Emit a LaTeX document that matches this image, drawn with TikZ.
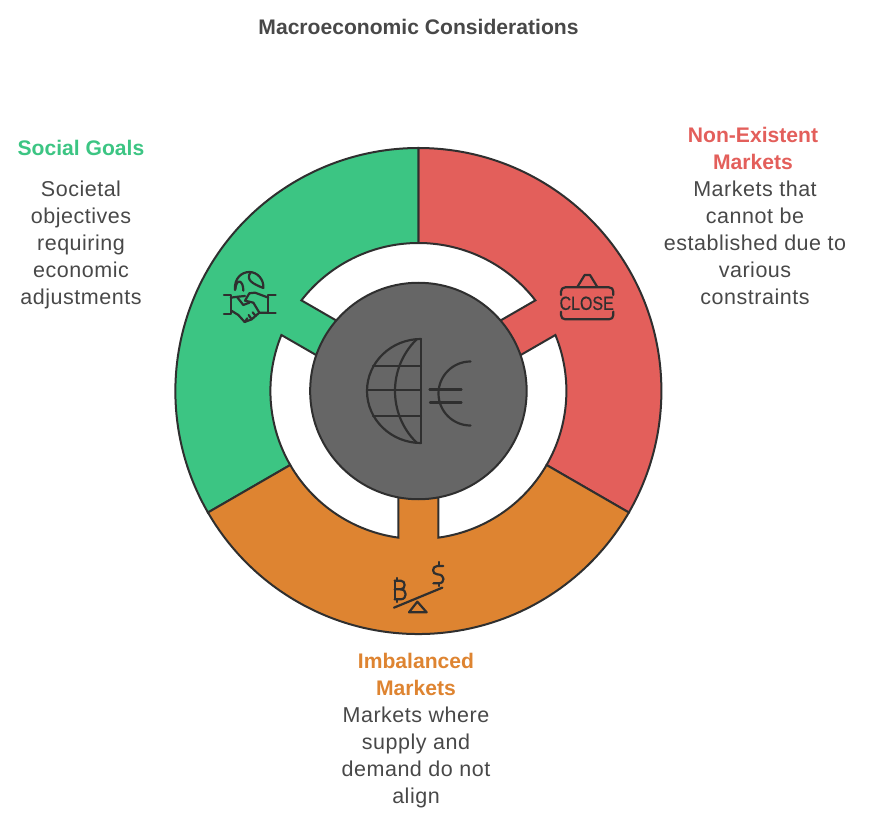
\documentclass[tikz,border=0pt]{standalone}
\usepackage{fontspec}
\setmainfont{Liberation Sans}
\newfontfamily\bodyfont[LetterSpace=2.4]{Liberation Sans}
\newfontfamily\signfont[FakeBold=0.6]{Liberation Sans}
\definecolor{ink}{HTML}{2F2F2F}
\definecolor{txt}{HTML}{484848}
\definecolor{gr}{HTML}{3CC583}
\definecolor{rd}{HTML}{E35F5B}
\definecolor{og}{HTML}{DE8431}
\definecolor{core}{HTML}{666666}
\tikzset{
 wedge/.style={draw=ink,line width=2pt,line join=miter},
 ico/.style={draw=ink,line width=2.2pt,line cap=round,line join=round},
 body/.style={text=txt,align=center,inner sep=0pt,font=\bodyfont\fontsize{21.5}{27}\selectfont},
 head/.style={align=center,inner sep=0pt,font=\fontsize{21.1}{27}\selectfont\bfseries}
}
\begin{document}
\begin{tikzpicture}[x=1pt,y=-1pt]
\useasboundingbox (0,0) rectangle (871,824);
\begin{scope}[shift={(418.4,391)}]
 \draw[wedge,fill=rd] (90:243pt) arc[start angle=90,end angle=-30,radius=243pt] -- (-30:148pt) arc[start angle=-30,end angle=22.23,radius=148pt] -- (19.33:108pt) -- (40.67:108pt) -- (37.77:148pt) arc[start angle=37.77,end angle=90,radius=148pt] -- cycle;
 \draw[wedge,fill=gr] (210:243pt) arc[start angle=210,end angle=90,radius=243pt] -- (90:148pt) arc[start angle=90,end angle=142.23,radius=148pt] -- (139.33:108pt) -- (160.67:108pt) -- (157.77:148pt) arc[start angle=157.77,end angle=210,radius=148pt] -- cycle;
 \draw[wedge,fill=og] (330:243pt) arc[start angle=330,end angle=210,radius=243pt] -- (210:148pt) arc[start angle=210,end angle=262.23,radius=148pt] -- (259.33:108pt) -- (280.67:108pt) -- (277.77:148pt) arc[start angle=277.77,end angle=330,radius=148pt] -- cycle;
 \node[circle,draw=ink,line width=2pt,fill=core,minimum size=216.5pt,inner sep=0pt] (hub) at (0,0) {};
\end{scope}
% globe and euro
\draw[ico] (421,339) -- (421,443);
\draw[ico] (421,339) arc[start angle=90,end angle=270,x radius=54pt,y radius=52pt];
\draw[ico] (416,340) .. controls (388,368) and (388,414) .. (416,442);
\draw[ico] (373,366) -- (421,366) (367.5,390) -- (421,390) (373,416) -- (421,416);
\draw[ico] (470.5,361.5) arc[start angle=90,end angle=270,radius=32pt];
\draw[ico] (429.5,389.5) -- (461.5,389.5) (430,402.5) -- (461.5,402.5);
% handshake
\begin{scope}[shift={(210,260)},x=0.3333pt,y=-0.3333pt]
 \draw[ico] (75,90) .. controls (72,55) and (95,36) .. (118,36) .. controls (142,36) and (162,58) .. (160,84);
 \draw[ico] (76,88) .. controls (78,55) and (100,58) .. (100,92);
 \draw[ico] (122,37) .. controls (105,60) and (130,72) .. (160,84);
 \draw[ico] (42,105) -- (62,105) -- (62,162) -- (42,162);
 \draw[ico] (197,105) -- (175,105) -- (175,160) -- (197,160);
 \draw[ico] (62,113) -- (85,110) -- (105,108);
 \draw[ico] (175,113) -- (135,98) -- (118,100) -- (105,122) -- (130,128) -- (148,158) -- (175,158);
 \draw[ico] (64,152) -- (85,165) -- (104,186) -- (125,178) -- (148,158);
 \draw[ico] (82,112) -- (100,135) -- (118,128) (112,175) -- (104,186) (125,178) -- (116,165) (137,168) -- (128,157);
\end{scope}
% close sign
\begin{scope}[shift={(550,265)},x=0.3333pt,y=-0.3333pt]
 \draw[ico] (82,66) -- (104,30) -- (120,30) -- (142,66);
 \draw[ico] (33,90) -- (33,80) .. controls (33,72) and (38,67) .. (46,67) -- (177,67) .. controls (185,67) and (190,72) .. (190,80) -- (190,90);
 \draw[ico] (33,140) -- (33,150) .. controls (33,158) and (38,163) .. (46,163) -- (177,163) .. controls (185,163) and (190,158) .. (190,150) -- (190,140);
 \node[inner sep=0pt,text=ink,xscale=.84,font=\signfont\fontsize{19}{19}\selectfont] (closeword) at (110,115) {CLOSE};
\end{scope}
% scale icon
\begin{scope}[shift={(380,550)},x=0.3333pt,y=-0.3333pt]
 \draw[ico] (87,187) -- (112,155) -- (140,187) -- cycle;
 \draw[ico] (42,173) -- (187,113);
 \draw[ico] (44,92) -- (44,148);
 \draw[ico] (44,92) -- (62,92) .. controls (78,92) and (78,118) .. (62,118) -- (44,118);
 \draw[ico] (62,118) .. controls (82,118) and (82,148) .. (62,148) -- (44,148);
 \draw[ico] (52,84) -- (52,92) (52,148) -- (52,156);
 \draw[ico] (190,48) -- (172,48) .. controls (155,48) and (155,73) .. (172,73) .. controls (196,73) and (196,100) .. (176,100) -- (160,100);
 \draw[ico] (178,36) -- (178,48) (178,100) -- (178,108);
\end{scope}
% texts
\node[head,text=txt] (title) at (418.5,27) {Macroeconomic Considerations};
\node[head,text=gr] (socialh) at (81,148) {Social Goals};
\node[body] (socialb) at (81,245) {Societal\\objectives\\requiring\\economic\\adjustments};
\node[head,text=rd] (nonh) at (753,148.5) {Non-Existent\\Markets};
\node[body] (nonb) at (755,243) {Markets that\\cannot be\\established due to\\various\\constraints};
\node[head,text=og] (imbh) at (416,674.5) {Imbalanced\\Markets};
\node[body] (imbb) at (416,757.5) {Markets where\\supply and\\demand do not\\align};
\end{tikzpicture}
\end{document}
